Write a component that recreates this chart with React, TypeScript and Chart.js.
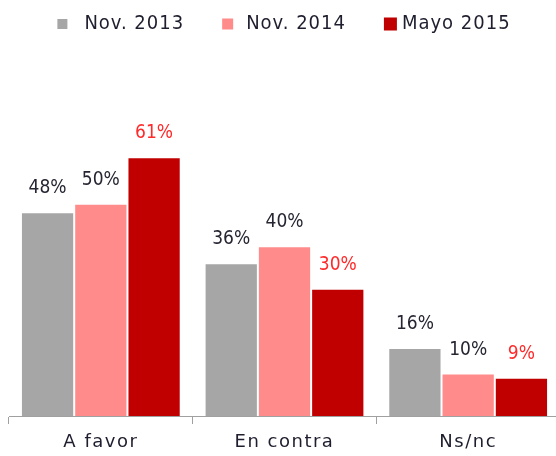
import React, { useEffect, useRef } from "react";
import { Chart, registerables } from "chart.js";

Chart.register(...registerables);

const categories = ["A favor", "En contra", "Ns/nc"];
const seriesNames = ["Nov. 2013", "Nov. 2014", "Mayo 2015"];
const nov2013 = [48, 36, 16];
const nov2014 = [50, 40, 10];
const mayo2015 = [61, 30, 9];

const colors = ["#a6a6a6", "#ff8b8b", "#c00000"];
const labelColors = ["#262633", "#262633", "#ff2a2a"];
const TEXT = "#1e1e2e";
const FONT = "'DejaVu Sans', Verdana, sans-serif";
const FONT_C = "'DejaVu Sans Condensed', 'DejaVu Sans', sans-serif";
const legendBox = [10, 11, 13];
const legendGap = [17, 13, 5];

const labelPlugin = {
  id: "barLabels",
  beforeDraw(chart: any) {
    (chart.ctx as any).letterSpacing = "1.5px";
  },
  afterDatasetsDraw(chart: any) {
    const ctx = chart.ctx;
    ctx.save();
    (ctx as any).letterSpacing = "0px";
    ctx.font = `19px ${FONT_C}`;
    ctx.textAlign = "center";
    ctx.textBaseline = "middle";
    chart.data.datasets.forEach((ds: any, i: number) => {
      const meta = chart.getDatasetMeta(i);
      meta.data.forEach((bar: any, j: number) => {
        ctx.fillStyle = labelColors[i];
        ctx.fillText(`${ds.data[j]}%`, bar.x, bar.y - 24);
      });
    });
    ctx.restore();
  },
  afterDraw(chart: any) {
    const ctx = chart.ctx;
    ctx.save();
    (ctx as any).letterSpacing = "1px";
    ctx.font = `20px ${FONT_C}`;
    ctx.textBaseline = "middle";
    ctx.textAlign = "left";
    const spacing = 38;
    const widths = chart.data.datasets.map(
      (ds: any, i: number) => legendBox[i] + legendGap[i] + ctx.measureText(ds.label).width
    );
    const total = widths.reduce((a: number, b: number) => a + b, 0) + spacing * (widths.length - 1);
    let x = 284 - total / 2;
    const cy = 24;
    chart.data.datasets.forEach((ds: any, i: number) => {
      const b = legendBox[i];
      ctx.fillStyle = colors[i];
      ctx.fillRect(x, cy - b / 2, b, b);
      ctx.fillStyle = TEXT;
      ctx.fillText(ds.label, x + b + legendGap[i], cy);
      x += widths[i] + spacing;
    });
    ctx.restore();
  },
};

export default function App() {
  const ref = useRef<HTMLCanvasElement>(null);
  useEffect(() => {
    const chart = new Chart(ref.current!, {
      type: "bar",
      data: {
        labels: categories,
        datasets: [nov2013, nov2014, mayo2015].map((d, i) => ({
          label: seriesNames[i],
          data: d,
          backgroundColor: colors[i],
          borderColor: "#ffffff",
          borderWidth: 1,
          categoryPercentage: 0.87,
          barPercentage: 1.0,
        })),
      },
      options: {
        animation: false,
        responsive: false,
        layout: { padding: { left: 9, right: 0, top: 119, bottom: 0 } },
        plugins: {
          legend: { display: false },
          tooltip: { enabled: false },
        },
        scales: {
          y: { display: false, min: 0, max: 70 },
          x: {
            border: { color: "#a0a0a0", width: 1 },
            grid: {
              drawOnChartArea: false,
              drawTicks: true,
              tickLength: 8,
              color: "#a0a0a0",
            },
            ticks: {
              color: TEXT,
              font: { family: FONT, size: 18, lineHeight: 1.0 },
              padding: 9,
            },
          },
        },
      },
      plugins: [labelPlugin],
    });
    return () => chart.destroy();
  }, []);
  return (
    <div style={{ position: "fixed", left: 0, top: 0, width: 556, height: 456, overflow: "hidden", background: "#fff" }}>
      <canvas ref={ref} width={560} height={460} />
    </div>
  );
}
